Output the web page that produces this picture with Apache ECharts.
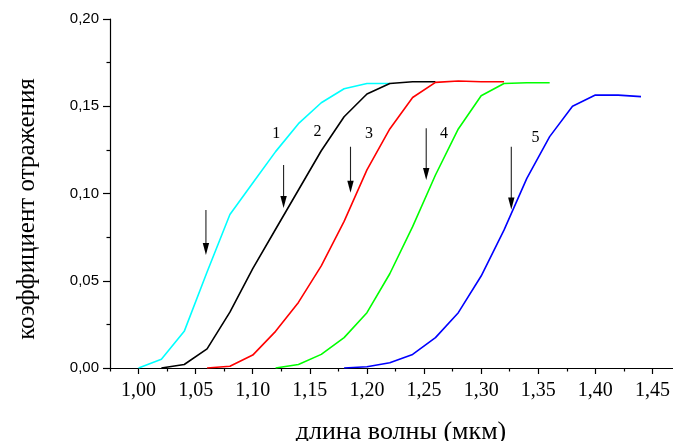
<!DOCTYPE html>
<html>
<head>
<meta charset="utf-8">
<style>
  html, body { margin: 0; padding: 0; background: #fff; }
  #chart { width: 673px; height: 441px; }
</style>
<script src="https://cdn.jsdelivr.net/npm/echarts@6/dist/echarts.min.js"></script>
</head>
<body>
<div id="chart"></div>
<script>
// Reflectance spectra, five curves (wavelength in µm)
const curve1X = [1.00, 1.02, 1.04, 1.06, 1.08, 1.10, 1.12, 1.14, 1.16, 1.18, 1.20, 1.22];
const curve1Y = [0, 0.005, 0.021, 0.055, 0.088, 0.106, 0.124, 0.140, 0.152, 0.160, 0.163, 0.163];

const curve2X = [1.02, 1.04, 1.06, 1.08, 1.10, 1.12, 1.14, 1.16, 1.18, 1.20, 1.22, 1.24, 1.26];
const curve2Y = [0, 0.002, 0.011, 0.032, 0.057, 0.0795, 0.102, 0.1245, 0.144, 0.157, 0.163, 0.164, 0.164];

const curve3X = [1.06, 1.08, 1.10, 1.12, 1.14, 1.16, 1.18, 1.20, 1.22, 1.24, 1.26, 1.28, 1.30, 1.32];
const curve3Y = [0, 0.001, 0.0074, 0.021, 0.0376, 0.0585, 0.084, 0.1135, 0.137, 0.155, 0.1637, 0.1645, 0.164, 0.164];

const curve4X = [1.12, 1.14, 1.16, 1.18, 1.20, 1.22, 1.24, 1.26, 1.28, 1.30, 1.32, 1.34, 1.36];
const curve4Y = [0, 0.002, 0.0078, 0.0174, 0.0317, 0.054, 0.081, 0.1106, 0.137, 0.156, 0.163, 0.1635, 0.1635];

const curve5X = [1.18, 1.20, 1.22, 1.24, 1.26, 1.28, 1.30, 1.32, 1.34, 1.36, 1.38, 1.40, 1.42, 1.44];
const curve5Y = [0, 0.0007, 0.003, 0.0078, 0.0174, 0.0317, 0.0527, 0.079, 0.1087, 0.1326, 0.150, 0.1564, 0.1564, 0.1555];

// Vertical arrows: x position, tail height, tip height
const arrowX = [1.059, 1.127, 1.1856, 1.2519, 1.3264];
const arrowTop = [0.0905, 0.1163, 0.1268, 0.1374, 0.1268];
const arrowTip = [0.0648, 0.0917, 0.1005, 0.1077, 0.0909];

// Curve numbers
const curveNames = ['1', '2', '3', '4', '5'];
const labelX = [1.1206, 1.1567, 1.2017, 1.2674, 1.3477];
const labelY = [0.1345, 0.1354, 0.1345, 0.1345, 0.1322];

// Axis ticks
const xMajorTicks = [1.00, 1.05, 1.10, 1.15, 1.20, 1.25, 1.30, 1.35, 1.40, 1.45];
const xMinorTicks = [0.975, 1.025, 1.075, 1.125, 1.175, 1.225, 1.275, 1.325, 1.375, 1.425];

const curveColors = ['#00ffff', '#000000', '#ff0000', '#00ff00', '#0000ff'];
const curvesX = [curve1X, curve2X, curve3X, curve4X, curve5X];
const curvesY = [curve1Y, curve2Y, curve3Y, curve4Y, curve5Y];

const comma = (v, d) => v.toFixed(d).replace('.', ',');

const lineSeries = curvesX.map((xs, i) => ({
  type: 'line',
  name: curveNames[i],
  data: xs.map((x, k) => [x, curvesY[i][k]]),
  showSymbol: false,
  symbol: 'none',
  silent: true,
  lineStyle: { color: curveColors[i], width: 1.6 },
  z: 2
}));

const arrowSeries = {
  type: 'custom',
  silent: true,
  data: arrowX.map((x, i) => [x, arrowTop[i], arrowTip[i]]),
  encode: { x: 0, y: [1, 2] },
  renderItem(params, api) {
    const top = api.coord([api.value(0), api.value(1)]);
    const tip = api.coord([api.value(0), api.value(2)]);
    const headH = 12, headW = 3.2;
    return {
      type: 'group',
      children: [
        { type: 'line', shape: { x1: top[0], y1: top[1], x2: tip[0], y2: tip[1] - headH + 1 },
          style: { stroke: '#222', lineWidth: 1.1 } },
        { type: 'polygon', shape: { points: [[tip[0] - headW, tip[1] - headH], [tip[0] + headW, tip[1] - headH], [tip[0], tip[1]]] },
          style: { fill: '#000' } }
      ]
    };
  },
  z: 3
};

const labelSeries = {
  type: 'custom',
  silent: true,
  data: labelX.map((x, i) => [x, labelY[i], i]),
  encode: { x: 0, y: 1 },
  renderItem(params, api) {
    const p = api.coord([api.value(0), api.value(1)]);
    return {
      type: 'text',
      x: p[0], y: p[1],
      style: {
        text: curveNames[api.value(2)],
        fill: '#000',
        font: '16px "Liberation Serif"',
        align: 'center',
        verticalAlign: 'middle'
      }
    };
  },
  z: 4
};

const chart = echarts.init(document.getElementById('chart'), null, { renderer: 'canvas' });
chart.setOption({
  animation: false,
  backgroundColor: '#fff',
  grid: { left: 110, right: 0, top: 19, bottom: 73, containLabel: false },
  xAxis: [
    {
      type: 'value', min: 0.975, max: 1.468,
      axisLine: { show: true, onZero: false, lineStyle: { color: '#000', width: 1.2 } },
      axisTick: { show: true, inside: false, length: 6, lineStyle: { color: '#000', width: 1.2 },
                  customValues: xMajorTicks },
      axisLabel: { show: true, customValues: xMajorTicks, margin: 13,
                   formatter: v => comma(v, 2),
                   color: '#000', fontFamily: 'Liberation Serif', fontSize: 20 },
      splitLine: { show: false }
    },
    {
      type: 'value', min: 0.975, max: 1.468, position: 'bottom',
      axisLine: { show: false, onZero: false },
      axisTick: { show: true, inside: false, length: 3.5, lineStyle: { color: '#000', width: 1.2 },
                  customValues: xMinorTicks },
      axisLabel: { show: false },
      splitLine: { show: false }
    }
  ],
  yAxis: {
    type: 'value', min: 0, max: 0.20, interval: 0.05,
    axisLine: { show: true, onZero: false, lineStyle: { color: '#000', width: 1.2 } },
    axisTick: { show: true, length: 7, lineStyle: { color: '#000', width: 1.2 } },
    minorTick: { show: true, splitNumber: 2, length: 3.5, lineStyle: { color: '#000', width: 1.2 } },
    axisLabel: { margin: 11, formatter: v => comma(v, 2),
                 color: '#000', fontFamily: 'Liberation Sans', fontSize: 15 },
    splitLine: { show: false }
  },
  graphic: [
    { type: 'text', x: 401, y: 432, silent: true,
      style: { text: 'длина волны (мкм)', font: '26px "Liberation Serif"', fill: '#000',
               align: 'center', verticalAlign: 'middle' } },
    { type: 'text', x: 27, y: 209, rotation: Math.PI / 2, silent: true,
      style: { text: 'коэффициент отражения', font: '25px "Liberation Serif"', fill: '#000',
               align: 'center', verticalAlign: 'middle' } }
  ],
  series: [...lineSeries, arrowSeries, labelSeries]
});
</script>
</body>
</html>
